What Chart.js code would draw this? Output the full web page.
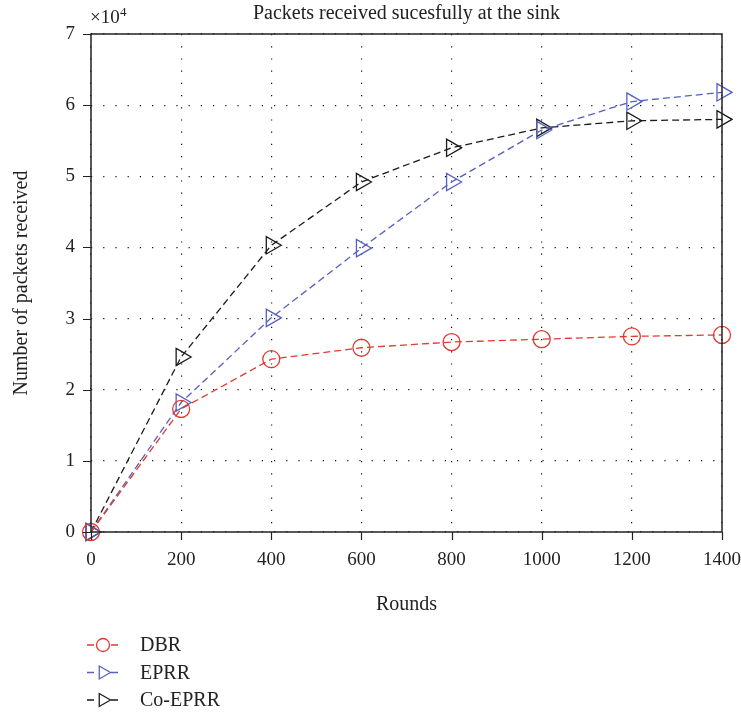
<!DOCTYPE html>
<html>
<head>
<meta charset="utf-8">
<script src="https://cdn.jsdelivr.net/npm/chart.js@4"></script>
<style>
  body { margin: 0; background: #fff; }
  #wrap { width: 741px; height: 716px; }
</style>
</head>
<body>
<div id="wrap"><canvas id="chart" width="741" height="716"></canvas></div>
<script>
const rounds = [0, 200, 400, 600, 800, 1000, 1200, 1400];
const dbr    = [0, 17300, 24300, 25900, 26700, 27100, 27500, 27700];
const eprr   = [0, 18200, 30100, 39900, 49200, 56500, 60500, 61800];
const coEprr = [0, 24600, 40300, 49200, 54000, 56800, 57800, 58000];
const xTicks = [0, 200, 400, 600, 800, 1000, 1200, 1400];
const yTicks = [0, 1, 2, 3, 4, 5, 6, 7];

const serif = '"Liberation Serif", "DejaVu Serif", serif';
const red = '#e03a2e', blue = '#5460c0', black = '#1a1a1a';

function series(label, values, color, style, radius) {
    return {
        label: label,
        data: rounds.map((r, i) => ({ x: r, y: values[i] })),
        borderColor: color,
        backgroundColor: 'rgba(0,0,0,0)',
        borderWidth: 1.3,
        borderDash: [7, 4],
        pointStyle: style,
        pointRotation: style === 'triangle' ? 90 : 0,
        pointRadius: radius,
        pointBorderWidth: 1.3,
        pointBorderColor: color,
        tension: 0,
        clip: false
    };
}

// frame, tick marks, title, exponent and legend drawn by hand
const extras = {
    id: 'extras',
    afterDraw(chart) {
        const ctx = chart.ctx;
        const a = chart.chartArea;
        const xs = chart.scales.x, ys = chart.scales.y;
        ctx.save();
        ctx.strokeStyle = '#222';
        ctx.lineWidth = 1.5;
        ctx.strokeRect(a.left, a.top, a.right - a.left, a.bottom - a.top);

        ctx.lineWidth = 1.2;
        ctx.beginPath();
        xTicks.forEach(v => {
            const px = Math.round(xs.getPixelForValue(v)) + 0.5;
            ctx.moveTo(px, a.bottom);
            ctx.lineTo(px, a.bottom + 8);
        });
        yTicks.forEach(v => {
            const py = Math.round(ys.getPixelForValue(v * 10000)) + 0.5;
            ctx.moveTo(a.left - 8, py);
            ctx.lineTo(a.left, py);
        });
        ctx.stroke();

        ctx.fillStyle = '#222';
        ctx.font = '20px ' + serif;
        ctx.textAlign = 'center';
        ctx.textBaseline = 'alphabetic';
        ctx.fillText('Packets received sucesfully at the sink', (a.left + a.right) / 2, 19);

        ctx.textAlign = 'left';
        ctx.font = '19px ' + serif;
        ctx.fillText('\u00d710', a.left - 1, 23);
        ctx.font = '13px ' + serif;
        ctx.fillText('4', a.left + 29, 16);

        chart.data.datasets.forEach((ds, i) => {
            const y = 645 + i * 27.5;
            ctx.strokeStyle = ds.borderColor;
            ctx.lineWidth = 1.3;
            ctx.setLineDash([7, 5]);
            ctx.beginPath();
            ctx.moveTo(87, y);
            ctx.lineTo(119, y);
            ctx.stroke();
            ctx.setLineDash([]);
            ctx.fillStyle = '#fff';
            ctx.fillRect(96, y - 8, 14, 16);
            Chart.helpers.drawPoint(ctx, {
                pointStyle: ds.pointStyle,
                rotation: ds.pointRotation,
                radius: ds.pointStyle === 'circle' ? 6.5 : 7.5,
                borderWidth: 1.3
            }, 103, y);
            ctx.fillStyle = '#222';
            ctx.font = '20px ' + serif;
            ctx.textBaseline = 'middle';
            ctx.fillText(ds.label, 140, y + 1);
        });
        ctx.restore();
    }
};

const ctx = document.getElementById('chart').getContext('2d');
new Chart(ctx, {
    type: 'line',
    data: {
        datasets: [
            series('DBR', dbr, red, 'circle', 8.5),
            series('EPRR', eprr, blue, 'triangle', 10),
            series('Co-EPRR', coEprr, black, 'triangle', 10)
        ]
    },
    options: {
        responsive: false,
        animation: false,
        layout: { padding: { top: 34, right: 19, bottom: 95, left: 0 } },
        plugins: { legend: { display: false }, title: { display: false }, tooltip: { enabled: false } },
        scales: {
            x: {
                type: 'linear',
                min: 0, max: 1400,
                afterBuildTicks: s => { s.ticks = xTicks.map(v => ({ value: v })); },
                afterFit: s => { s.height = 89; s.paddingLeft = 0; s.paddingRight = 0; },
                border: { display: false, dash: [1.2, 11] },
                grid: {
                    color: '#111',
                    lineWidth: 1.2,
                    tickLength: 8,
                    tickColor: 'rgba(0,0,0,0)'
                },
                ticks: { color: '#222', font: { family: serif, size: 19 }, padding: 9, maxRotation: 0, callback: v => String(v) },
                title: { display: true, text: 'Rounds', color: '#222', font: { family: serif, size: 20 }, padding: { top: 18 } }
            },
            y: {
                min: 0, max: 70000,
                afterBuildTicks: s => { s.ticks = yTicks.map(v => ({ value: v * 10000 })); },
                afterFit: s => { s.width = 91; },
                border: { display: false, dash: [1.2, 11] },
                grid: {
                    color: '#111',
                    lineWidth: 1.2,
                    tickLength: 8,
                    tickColor: 'rgba(0,0,0,0)'
                },
                ticks: { color: '#222', font: { family: serif, size: 19 }, padding: 8, callback: v => String(v / 10000) },
                title: { display: true, text: 'Number of packets received', color: '#222', font: { family: serif, size: 20 }, padding: { top: 10, bottom: 14 } }
            }
        }
    },
    plugins: [extras]
});
</script>
</body>
</html>
